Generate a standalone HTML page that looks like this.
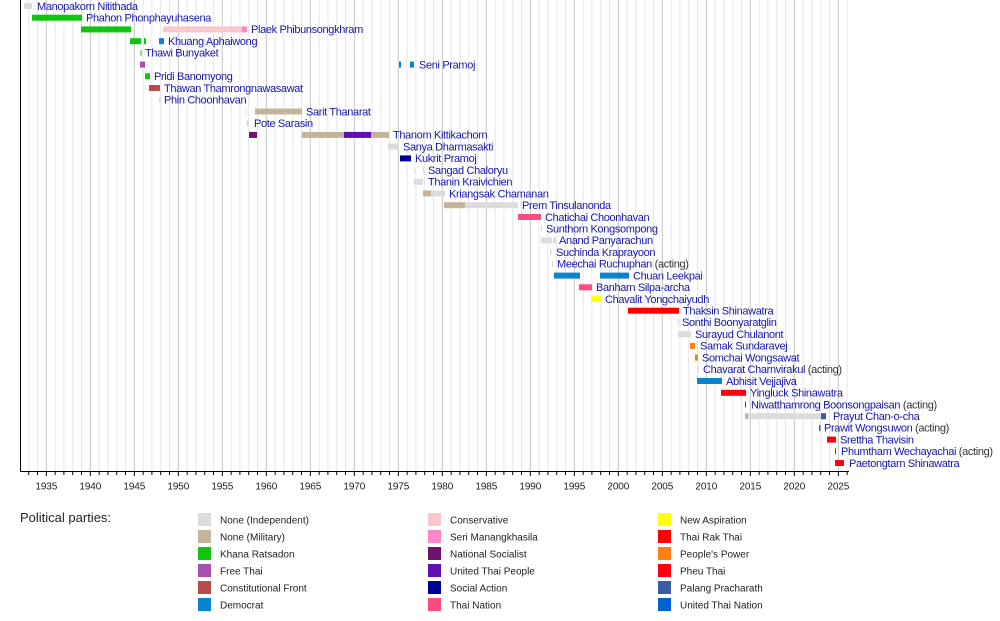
<!DOCTYPE html>
<html><head><meta charset="utf-8"><style>
html,body{margin:0;padding:0;background:#fff;}
svg{display:block;}
.n{font-family:"Liberation Sans",Arial,sans-serif;font-size:11px;fill:#1616b0;letter-spacing:-0.35px;}
.a{fill:#333;}
.ax{font-family:"Liberation Sans",Arial,sans-serif;font-size:10px;fill:#222;text-anchor:middle;letter-spacing:-0.1px;}
.lg{font-family:"Liberation Sans",Arial,sans-serif;font-size:10px;fill:#222;}
.ti{font-family:"Liberation Sans",Arial,sans-serif;font-size:13px;fill:#222;}
</style></head><body>
<svg width="1000" height="621" viewBox="0 0 1000 621" xmlns="http://www.w3.org/2000/svg">
<rect width="1000" height="621" fill="#fff"/>
<!-- light year grid -->
<path stroke="#e6e6e6" stroke-width="1" fill="none" d="M28.7 0V471M37.5 0V471M55.1 0V471M63.9 0V471M72.7 0V471M81.5 0V471M99.1 0V471M107.9 0V471M116.7 0V471M125.5 0V471M143.1 0V471M151.9 0V471M160.7 0V471M169.5 0V471M187.1 0V471M195.9 0V471M204.7 0V471M213.5 0V471M231.1 0V471M239.9 0V471M248.7 0V471M257.5 0V471M275.1 0V471M283.9 0V471M292.7 0V471M301.5 0V471M319.1 0V471M327.9 0V471M336.7 0V471M345.5 0V471M363.1 0V471M371.9 0V471M380.7 0V471M389.5 0V471M407.1 0V471M415.9 0V471M424.7 0V471M433.5 0V471M451.1 0V471M459.9 0V471M468.7 0V471M477.5 0V471M495.1 0V471M503.9 0V471M512.7 0V471M521.5 0V471M539.1 0V471M547.9 0V471M556.7 0V471M565.5 0V471M583.1 0V471M591.9 0V471M600.7 0V471M609.5 0V471M627.1 0V471M635.9 0V471M644.7 0V471M653.5 0V471M671.1 0V471M679.9 0V471M688.7 0V471M697.5 0V471M715.1 0V471M723.9 0V471M732.7 0V471M741.5 0V471M759.1 0V471M767.9 0V471M776.7 0V471M785.5 0V471M803.1 0V471M811.9 0V471M820.7 0V471M829.5 0V471M847.1 0V471"/>
<!-- 5-year grid -->
<path stroke="#c4c4c4" stroke-width="1" fill="none" d="M46.3 0V471M90.3 0V471M134.3 0V471M178.3 0V471M222.3 0V471M266.3 0V471M310.3 0V471M354.3 0V471M398.3 0V471M442.3 0V471M486.3 0V471M530.3 0V471M574.3 0V471M618.3 0V471M662.3 0V471M706.3 0V471M750.3 0V471M794.3 0V471M838.3 0V471"/>

<!-- bars -->
<g>
<!-- 0 Manopakorn -->
<rect x="24" y="3" width="8" height="6" fill="#dcdcdc"/>
<!-- 1 Phahon -->
<rect x="32" y="14.7" width="50" height="6" fill="#12c412"/>
<!-- 2 Plaek -->
<rect x="81" y="26.4" width="50" height="6" fill="#12c412"/>
<rect x="163" y="26.4" width="79" height="6" fill="#fac8cc"/>
<rect x="242" y="26.4" width="5" height="6" fill="#ff88c8"/>
<!-- 3 Khuang -->
<rect x="130" y="38.2" width="11" height="6" fill="#12c412"/>
<rect x="144" y="38.2" width="2" height="6" fill="#12c412"/>
<rect x="159" y="38.2" width="5" height="6" fill="#0a84cc"/>
<!-- 4 Thawi -->
<rect x="140.5" y="49.9" width="1" height="6" fill="#12c412"/>
<!-- 5 Seni -->
<rect x="140" y="61.6" width="5" height="6" fill="#a850b0"/>
<rect x="399" y="61.6" width="2" height="6" fill="#0a84cc"/>
<rect x="410" y="61.6" width="4" height="6" fill="#0a84cc"/>
<!-- 6 Pridi -->
<rect x="145" y="73.3" width="5" height="6" fill="#12c412"/>
<!-- 7 Thawan -->
<rect x="149" y="85" width="11" height="6" fill="#b84c4c"/>
<!-- 8 Phin -->
<rect x="159" y="96.8" width="1.5" height="6" fill="#dcdcdc"/>
<!-- 9 Sarit -->
<rect x="246" y="108.5" width="1" height="6" fill="#dcdcdc"/>
<rect x="255" y="108.5" width="47" height="6" fill="#c4b49c"/>
<!-- 10 Pote -->
<rect x="246.5" y="120.2" width="2.5" height="6" fill="#dcdcdc"/>
<!-- 11 Thanom -->
<rect x="249" y="131.9" width="8" height="6" fill="#701070"/>
<rect x="302" y="131.9" width="42" height="6" fill="#c4b49c"/>
<rect x="344" y="131.9" width="27" height="6" fill="#6010b0"/>
<rect x="371" y="131.9" width="18" height="6" fill="#c4b49c"/>
<!-- 12 Sanya -->
<rect x="388" y="143.6" width="11" height="6" fill="#dcdcdc"/>
<!-- 13 Kukrit -->
<rect x="400" y="155.4" width="11" height="6" fill="#000094"/>
<!-- 14 Sangad -->
<rect x="414" y="167.1" width="1" height="6" fill="#dcdcdc"/>
<rect x="423" y="167.1" width="1" height="6" fill="#dcdcdc"/>
<!-- 15 Thanin -->
<rect x="414" y="178.8" width="9" height="6" fill="#dcdcdc"/>
<!-- 16 Kriangsak -->
<rect x="423" y="190.5" width="8" height="6" fill="#c4b49c"/>
<rect x="431" y="190.5" width="14" height="6" fill="#dcdcdc"/>
<!-- 17 Prem -->
<rect x="444" y="202.2" width="21" height="6" fill="#c4b49c"/>
<rect x="465" y="202.2" width="53" height="6" fill="#dcdcdc"/>
<!-- 18 Chatichai -->
<rect x="518" y="214" width="23" height="6" fill="#ff4c80"/>
<!-- 19 Sunthorn -->
<rect x="541" y="225.7" width="1" height="6" fill="#dcdcdc"/>
<!-- 20 Anand -->
<rect x="541" y="237.4" width="11" height="6" fill="#dcdcdc"/>
<rect x="553" y="237.4" width="3" height="6" fill="#dcdcdc"/>
<!-- 21 Suchinda -->
<rect x="550" y="249.1" width="1.5" height="6" fill="#dcdcdc"/>
<!-- 22 Meechai -->
<rect x="552" y="260.8" width="1" height="6" fill="#dcdcdc"/>
<!-- 23 Chuan -->
<rect x="554" y="272.6" width="26" height="6" fill="#0a84cc"/>
<rect x="600" y="272.6" width="29" height="6" fill="#0a84cc"/>
<!-- 24 Banharn -->
<rect x="579" y="284.3" width="13" height="6" fill="#ff4c80"/>
<!-- 25 Chavalit -->
<rect x="591" y="296" width="10" height="6" fill="#ffff10"/>
<!-- 26 Thaksin -->
<rect x="628" y="307.7" width="51" height="6" fill="#ff0000"/>
<!-- 27 Sonthi -->
<rect x="678" y="319.4" width="1" height="6" fill="#dcdcdc"/>
<!-- 28 Surayud -->
<rect x="678" y="331.2" width="13" height="6" fill="#dcdcdc"/>
<!-- 29 Samak -->
<rect x="690" y="342.9" width="5" height="6" fill="#ff8010"/>
<!-- 30 Somchai -->
<rect x="695" y="354.6" width="3" height="6" fill="#ff8010"/>
<!-- 31 Chavarat -->
<rect x="698" y="366.3" width="1" height="6" fill="#dcdcdc"/>
<!-- 32 Abhisit -->
<rect x="697" y="378" width="25" height="6" fill="#0a84cc"/>
<!-- 33 Yingluck -->
<rect x="721" y="389.8" width="25" height="6" fill="#ff0010"/>
<!-- 34 Niwatthamrong -->
<rect x="745" y="401.5" width="1" height="6" fill="#ff0010"/>
<!-- 35 Prayut -->
<rect x="745" y="413.2" width="3" height="6" fill="#b8b8b8"/>
<rect x="748" y="413.2" width="73" height="6" fill="#dcdcdc"/>
<rect x="821" y="413.2" width="5" height="6" fill="#3c5aa8"/>
<!-- 36 Prawit -->
<rect x="819" y="424.9" width="1.5" height="6" fill="#3c5aa8"/>
<!-- 37 Srettha -->
<rect x="827" y="436.6" width="9" height="6" fill="#ff0010"/>
<!-- 38 Phumtham -->
<rect x="835" y="448.3" width="1" height="6" fill="#ff0010"/>
<!-- 39 Paetongtarn -->
<rect x="835" y="460" width="9" height="6" fill="#ff0010"/>
</g>

<!-- names -->
<g class="n">
<text x="37" y="9.8">Manopakorn Nitithada</text>
<text x="86" y="21.5">Phahon Phonphayuhasena</text>
<text x="251" y="33.2">Plaek Phibunsongkhram</text>
<text x="168" y="45">Khuang Aphaiwong</text>
<text x="145" y="56.7">Thawi Bunyaket</text>
<text x="419" y="68.4">Seni Pramoj</text>
<text x="154" y="80.1">Pridi Banomyong</text>
<text x="164" y="91.8">Thawan Thamrongnawasawat</text>
<text x="164" y="103.6">Phin Choonhavan</text>
<text x="306" y="115.3">Sarit Thanarat</text>
<text x="254" y="127">Pote Sarasin</text>
<text x="393" y="138.7">Thanom Kittikachorn</text>
<text x="403" y="150.4">Sanya Dharmasakti</text>
<text x="415" y="162.2">Kukrit Pramoj</text>
<text x="428" y="173.9">Sangad Chaloryu</text>
<text x="428" y="185.6">Thanin Kraivichien</text>
<text x="449" y="197.3">Kriangsak Chamanan</text>
<text x="522" y="209">Prem Tinsulanonda</text>
<text x="545" y="220.8">Chatichai Choonhavan</text>
<text x="546" y="232.5">Sunthorn Kongsompong</text>
<text x="559" y="244.2">Anand Panyarachun</text>
<text x="556" y="255.9">Suchinda Kraprayoon</text>
<text x="557" y="267.6">Meechai Ruchuphan<tspan class="a"> (acting)</tspan></text>
<text x="633" y="279.4">Chuan Leekpai</text>
<text x="596" y="291.1">Banharn Silpa-archa</text>
<text x="605" y="302.8">Chavalit Yongchaiyudh</text>
<text x="683" y="314.5">Thaksin Shinawatra</text>
<text x="682" y="326.2">Sonthi Boonyaratglin</text>
<text x="695" y="338">Surayud Chulanont</text>
<text x="700" y="349.7">Samak Sundaravej</text>
<text x="702" y="361.4">Somchai Wongsawat</text>
<text x="703" y="373.1">Chavarat Charnvirakul<tspan class="a"> (acting)</tspan></text>
<text x="726" y="384.8">Abhisit Vejjajiva</text>
<text x="750" y="396.6">Yingluck Shinawatra</text>
<text x="751" y="408.3">Niwatthamrong Boonsongpaisan<tspan class="a"> (acting)</tspan></text>
<text x="833" y="420">Prayut Chan-o-cha</text>
<text x="824" y="431.7">Prawit Wongsuwon<tspan class="a"> (acting)</tspan></text>
<text x="840" y="443.4">Srettha Thavisin</text>
<text x="841" y="455.1">Phumtham Wechayachai<tspan class="a"> (acting)</tspan></text>
<text x="849" y="466.8">Paetongtarn Shinawatra</text>
</g>

<!-- axes -->
<path stroke="#000" stroke-width="1" fill="none" d="M20.5 0V471.5M20 471.5H849"/>
<path stroke="#000" stroke-width="1" fill="none" d="M28.7 471V475M37.5 471V475M46.3 471V476M55.1 471V475M63.9 471V475M72.7 471V475M81.5 471V475M90.3 471V476M99.1 471V475M107.9 471V475M116.7 471V475M125.5 471V475M134.3 471V476M143.1 471V475M151.9 471V475M160.7 471V475M169.5 471V475M178.3 471V476M187.1 471V475M195.9 471V475M204.7 471V475M213.5 471V475M222.3 471V476M231.1 471V475M239.9 471V475M248.7 471V475M257.5 471V475M266.3 471V476M275.1 471V475M283.9 471V475M292.7 471V475M301.5 471V475M310.3 471V476M319.1 471V475M327.9 471V475M336.7 471V475M345.5 471V475M354.3 471V476M363.1 471V475M371.9 471V475M380.7 471V475M389.5 471V475M398.3 471V476M407.1 471V475M415.9 471V475M424.7 471V475M433.5 471V475M442.3 471V476M451.1 471V475M459.9 471V475M468.7 471V475M477.5 471V475M486.3 471V476M495.1 471V475M503.9 471V475M512.7 471V475M521.5 471V475M530.3 471V476M539.1 471V475M547.9 471V475M556.7 471V475M565.5 471V475M574.3 471V476M583.1 471V475M591.9 471V475M600.7 471V475M609.5 471V475M618.3 471V476M627.1 471V475M635.9 471V475M644.7 471V475M653.5 471V475M662.3 471V476M671.1 471V475M679.9 471V475M688.7 471V475M697.5 471V475M706.3 471V476M715.1 471V475M723.9 471V475M732.7 471V475M741.5 471V475M750.3 471V476M759.1 471V475M767.9 471V475M776.7 471V475M785.5 471V475M794.3 471V476M803.1 471V475M811.9 471V475M820.7 471V475M829.5 471V475M838.3 471V476M847.1 471V475"/>
<g class="ax">
<text x="46.3" y="489.5">1935</text>
<text x="90.3" y="489.5">1940</text>
<text x="134.3" y="489.5">1945</text>
<text x="178.3" y="489.5">1950</text>
<text x="222.3" y="489.5">1955</text>
<text x="266.3" y="489.5">1960</text>
<text x="310.3" y="489.5">1965</text>
<text x="354.3" y="489.5">1970</text>
<text x="398.3" y="489.5">1975</text>
<text x="442.3" y="489.5">1980</text>
<text x="486.3" y="489.5">1985</text>
<text x="530.3" y="489.5">1990</text>
<text x="574.3" y="489.5">1995</text>
<text x="618.3" y="489.5">2000</text>
<text x="662.3" y="489.5">2005</text>
<text x="706.3" y="489.5">2010</text>
<text x="750.3" y="489.5">2015</text>
<text x="794.3" y="489.5">2020</text>
<text x="838.3" y="489.5">2025</text>
</g>

<!-- legend -->
<text class="ti" x="20" y="521.8">Political parties:</text>
<g>
<rect x="198" y="513" width="13" height="13" fill="#dcdcdc"/>
<rect x="198" y="530" width="13" height="13" fill="#c4b49c"/>
<rect x="198" y="547" width="13" height="13" fill="#12c412"/>
<rect x="198" y="564" width="13" height="13" fill="#a850b0"/>
<rect x="198" y="581" width="13" height="13" fill="#b84c4c"/>
<rect x="198" y="598" width="13" height="13" fill="#0a84cc"/>
<rect x="428" y="513" width="13" height="13" fill="#fac8cc"/>
<rect x="428" y="530" width="13" height="13" fill="#ff88c8"/>
<rect x="428" y="547" width="13" height="13" fill="#701070"/>
<rect x="428" y="564" width="13" height="13" fill="#6010b0"/>
<rect x="428" y="581" width="13" height="13" fill="#000094"/>
<rect x="428" y="598" width="13" height="13" fill="#ff4c80"/>
<rect x="658" y="513" width="13" height="13" fill="#ffff10"/>
<rect x="658" y="530" width="13" height="13" fill="#ff0000"/>
<rect x="658" y="547" width="13" height="13" fill="#ff8010"/>
<rect x="658" y="564" width="13" height="13" fill="#ff0010"/>
<rect x="658" y="581" width="13" height="13" fill="#3c5aa8"/>
<rect x="658" y="598" width="13" height="13" fill="#0064d0"/>
</g>
<g class="lg">
<text x="220" y="523.5">None (Independent)</text>
<text x="220" y="540.5">None (Military)</text>
<text x="220" y="557.5">Khana Ratsadon</text>
<text x="220" y="574.5">Free Thai</text>
<text x="220" y="591.5">Constitutional Front</text>
<text x="220" y="608.5">Democrat</text>
<text x="450" y="523.5">Conservative</text>
<text x="450" y="540.5">Seri Manangkhasila</text>
<text x="450" y="557.5">National Socialist</text>
<text x="450" y="574.5">United Thai People</text>
<text x="450" y="591.5">Social Action</text>
<text x="450" y="608.5">Thai Nation</text>
<text x="680" y="523.5">New Aspiration</text>
<text x="680" y="540.5">Thai Rak Thai</text>
<text x="680" y="557.5">People's Power</text>
<text x="680" y="574.5">Pheu Thai</text>
<text x="680" y="591.5">Palang Pracharath</text>
<text x="680" y="608.5">United Thai Nation</text>
</g>
</svg>
</body></html>
